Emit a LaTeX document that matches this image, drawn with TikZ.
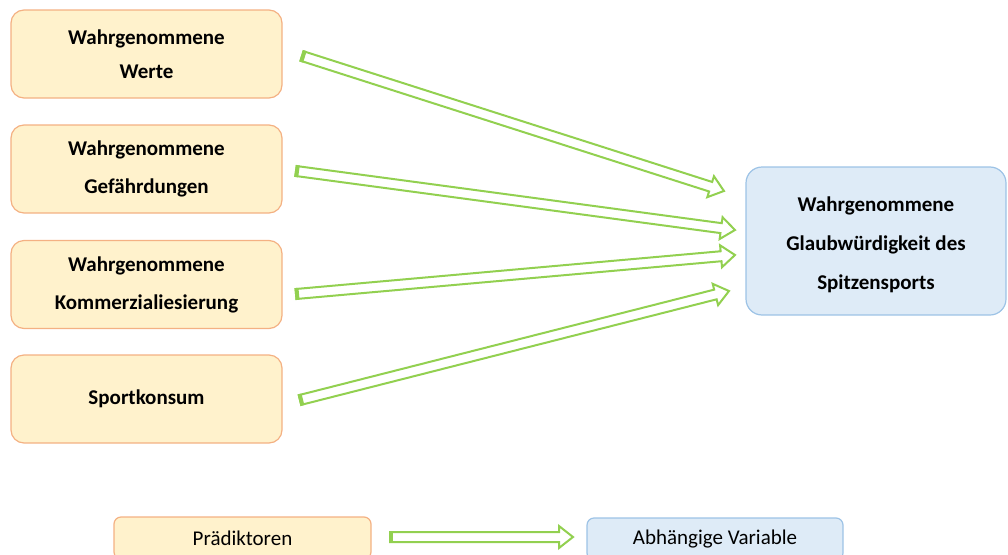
\documentclass[tikz,border=0pt]{standalone}
\usepackage{fontspec}
\setmainfont{Carlito}
\usetikzlibrary{calc}
\definecolor{boxfill}{HTML}{FFF2CC}
\definecolor{boxline}{HTML}{F4B183}
\definecolor{depfill}{HTML}{DEEBF7}
\definecolor{depline}{HTML}{9DC3E6}
\definecolor{arrgreen}{HTML}{92D050}
\tikzset{
  pred/.style={draw=boxline, fill=boxfill, line width=1.2pt, rounded corners=13pt,
    minimum width=271pt, minimum height=88pt, align=center, inner sep=0pt,
    font=\fontsize{21}{38}\selectfont\bfseries},
  dep/.style={draw=depline, fill=depfill, line width=1.2pt, rounded corners=16pt,
    minimum width=260pt, minimum height=148pt, inner sep=0pt},
  deptext/.style={align=center, inner sep=0pt, font=\fontsize{21}{39}\selectfont\bfseries},
  legpred/.style={draw=boxline, fill=boxfill, line width=1.2pt, rounded corners=7pt,
    minimum width=257pt, minimum height=42pt, inner sep=0pt, font=\fontsize{21}{25}\selectfont},
  legdep/.style={draw=depline, fill=depfill, line width=1.2pt, rounded corners=7pt,
    minimum width=256pt, minimum height=42pt, inner sep=0pt, font=\fontsize{21}{25}\selectfont},
  blk/.pic={
    \draw[arrgreen, line width=2pt, fill=white, line join=miter]
      (0,5) -- ({#1-14},5) -- ({#1-14},11) -- (#1,0) -- ({#1-14},-11) -- ({#1-14},-5) -- (0,-5) -- cycle;
    \fill[arrgreen] (-1,-6) rectangle (3,6);
  }
}
\newcommand\blockarr[2]{%
  \path let \p1=(#1), \p2=(#2), \n1={atan2(\y2-\y1,\x2-\x1)},
    \n2={veclen(\x2-\x1,\y2-\y1)} in pic[rotate=\n1] at (\p1) {blk=\n2};}
\begin{document}
\begin{tikzpicture}[x=1pt,y=1pt]
\useasboundingbox (0,0) rectangle (1008,-554);
\clip (0,0) rectangle (1008,-554);

\node[pred, font=\fontsize{21}{34}\selectfont\bfseries] (p1) at (146.5,-54) {Wahrgenommene\\Werte};
\node[pred] (p2) at (146.5,-169) {Wahrgenommene\\Gefährdungen};
\node[pred] (p3) at (146.5,-284.5) {Wahrgenommene\\Kommerzialiesierung};
\node[pred] (p4) at (146.5,-399) {Sportkonsum};
\node[dep] (d) at (876,-241) {};
\node[deptext] (dt) at ([yshift=-4pt]d.center) {Wahrgenommene\\Glaubwürdigkeit des\\Spitzensports};

\node[legpred] (lp) at (242.5,-538) {Prädiktoren};
\node[legdep] (ld) at (715,-539) {Abhängige Variable};

\coordinate (t1) at (302,-56);  \coordinate (h1) at (724,-191);
\coordinate (t2) at (296,-171); \coordinate (h2) at (735,-230);
\coordinate (t3) at (296,-294); \coordinate (h3) at (735,-255);
\coordinate (t4) at (300,-400); \coordinate (h4) at (729,-291);
\coordinate (tl) at (390,-537); \coordinate (hl) at (573,-537);

\blockarr{t1}{h1}
\blockarr{t2}{h2}
\blockarr{t3}{h3}
\blockarr{t4}{h4}
\blockarr{tl}{hl}
\end{tikzpicture}
\end{document}
